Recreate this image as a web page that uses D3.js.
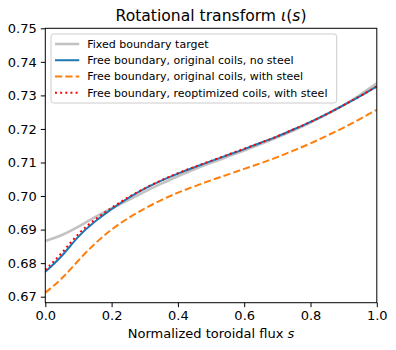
<!DOCTYPE html><html><head><meta charset="UTF-8"><script src="https://d3js.org/d3.v7.min.js"></script><style>
    body { margin: 0; background: #fff; }
    svg { font-family: "DejaVu Sans", sans-serif; }
</style></head><body><div id="chart"></div><script>
    // normalized toroidal flux grid
    const sGrid = [0, 0.05, 0.1, 0.15, 0.2, 0.25, 0.3, 0.35, 0.4, 0.45, 0.5,
                   0.55, 0.6, 0.65, 0.7, 0.75, 0.8, 0.85, 0.9, 0.95, 1.0];
    const iotaTarget = [0.6866, 0.6884, 0.6909, 0.6937, 0.6963, 0.6988, 0.7013, 0.7037, 0.7059, 0.7080, 0.7099,
                        0.7117, 0.7136, 0.7155, 0.7175, 0.7196, 0.7219, 0.7244, 0.7271, 0.7302, 0.7336];
    const iotaNoSteel = [0.6774, 0.6822, 0.6879, 0.6924, 0.6961, 0.6994, 0.7022, 0.7046, 0.7067, 0.7086, 0.7104,
                         0.7122, 0.7140, 0.7159, 0.7178, 0.7199, 0.7221, 0.7245, 0.7271, 0.7298, 0.7327];
    const iotaSteel = [0.6712, 0.6755, 0.6808, 0.6858, 0.6900, 0.6934, 0.6963, 0.6988, 0.7010, 0.7029, 0.7047,
                       0.7064, 0.7081, 0.7098, 0.7116, 0.7136, 0.7157, 0.7180, 0.7204, 0.7230, 0.7257];
    const iotaReopt = [0.6780, 0.6831, 0.6887, 0.6930, 0.6965, 0.6996, 0.7023, 0.7047, 0.7068, 0.7087, 0.7105,
                       0.7123, 0.7141, 0.7159, 0.7178, 0.7199, 0.7221, 0.7245, 0.7271, 0.7298, 0.7327];
    const xTicks = [0, 0.2, 0.4, 0.6, 0.8, 1.0];
    const yTicks = [0.67, 0.68, 0.69, 0.70, 0.71, 0.72, 0.73, 0.74, 0.75];
    const labels = ['Fixed boundary target',
                    'Free boundary, original coils, no steel',
                    'Free boundary, original coils, with steel',
                    'Free boundary, reoptimized coils, with steel'];

    const fullWidth = 396, fullHeight = 350;
    const mLeft = 45.3, mRight = 376.8, mTop = 28.3, mBottom = 302.7;

    const svg = d3.select('#chart').append('svg')
        .attr('width', fullWidth)
        .attr('height', fullHeight);

    const x = d3.scaleLinear().domain([0, 1]).range([mLeft, mRight]);
    const y = d3.scaleLinear().domain([0.66821, 0.75]).range([mBottom, mTop]);

    const series = [
        {vals: iotaTarget, color: '#c2c2c2', width: 2.6, dash: null},
        {vals: iotaNoSteel, color: '#1f77b4', width: 2, dash: null},
        {vals: iotaSteel, color: '#ff7f0e', width: 2, dash: '7.2,3.1'},
        {vals: iotaReopt, color: '#ff0000', width: 2, dash: '1.95,3.2'}
    ];

    const line = d3.line()
        .x((d, i) => x(sGrid[i]))
        .y(d => y(d))
        .curve(d3.curveNatural);

    svg.append('defs').append('clipPath').attr('id', 'clip')
        .append('rect').attr('x', mLeft).attr('y', mTop)
        .attr('width', mRight - mLeft).attr('height', mBottom - mTop);

    const plot = svg.append('g').attr('clip-path', 'url(#clip)');
    series.forEach(s => {
        plot.append('path')
            .attr('d', line(s.vals))
            .attr('fill', 'none')
            .attr('stroke', s.color)
            .attr('stroke-width', s.width)
            .attr('stroke-dasharray', s.dash);
    });

    // axes
    const xAxis = d3.axisBottom(x).tickValues(xTicks).tickFormat(d3.format('.1f'))
        .tickSize(4.5).tickPadding(4);
    const yAxis = d3.axisLeft(y).tickValues(yTicks).tickFormat(d3.format('.2f'))
        .tickSize(4.5).tickPadding(4);

    const gx = svg.append('g').attr('transform', `translate(0,${mBottom})`).call(xAxis);
    const gy = svg.append('g').attr('transform', `translate(${mLeft},0)`).call(yAxis);
    [gx, gy].forEach(g => {
        g.select('.domain').remove();
        g.selectAll('.tick line').attr('stroke', '#000').attr('stroke-width', 1);
        g.selectAll('.tick text').attr('font-size', 13).attr('fill', '#000')
            .attr('font-family', '"DejaVu Sans", sans-serif');
    });

    svg.append('rect')
        .attr('x', mLeft).attr('y', mTop)
        .attr('width', mRight - mLeft).attr('height', mBottom - mTop)
        .attr('fill', 'none').attr('stroke', '#000').attr('stroke-width', 1);

    // title
    const title = svg.append('text')
        .attr('x', (mLeft + mRight) / 2).attr('y', 20.5)
        .attr('text-anchor', 'middle')
        .attr('font-size', 15.6);
    title.append('tspan').text('Rotational transform ');
    title.append('tspan').attr('font-style', 'italic').text('ι');
    title.append('tspan').text('(');
    title.append('tspan').attr('font-style', 'italic').text('s');
    title.append('tspan').text(')');

    const xl = svg.append('text')
        .attr('x', (mLeft + mRight) / 2).attr('y', 338)
        .attr('text-anchor', 'middle')
        .attr('font-size', 13);
    xl.append('tspan').text('Normalized toroidal flux ');
    xl.append('tspan').attr('font-style', 'italic').text('s');

    // legend
    const leg = svg.append('g');
    leg.append('rect')
        .attr('x', 51).attr('y', 34)
        .attr('width', 285.7).attr('height', 69)
        .attr('rx', 2.5)
        .attr('fill', '#fff').attr('fill-opacity', 0.8)
        .attr('stroke', '#cccccc').attr('stroke-width', 1);
    const rowY = d3.scaleLinear().domain([0, 3]).range([44, 92.7]);
    series.forEach((s, i) => {
        leg.append('line')
            .attr('x1', 55).attr('x2', 79.3)
            .attr('y1', rowY(i)).attr('y2', rowY(i))
            .attr('stroke', s.color)
            .attr('stroke-width', s.width)
            .attr('stroke-dasharray', s.dash);
        leg.append('text')
            .attr('x', 87.2).attr('y', rowY(i) + 4)
            .attr('font-size', 11)
            .text(labels[i]);
    });
</script></body></html>
